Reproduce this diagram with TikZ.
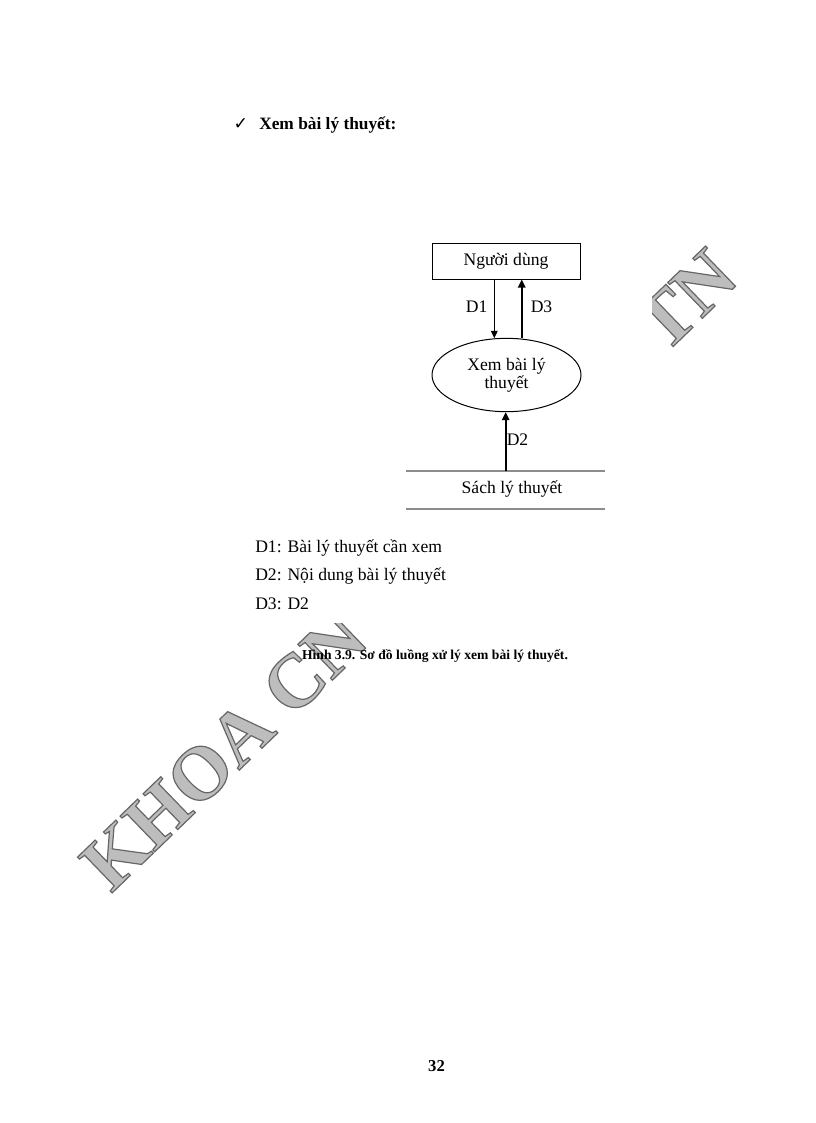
\documentclass[tikz,border=0pt]{standalone}
\usepackage{fontspec}
\setmainfont{Liberation Serif}
\newfontfamily\symfont{DejaVu Sans}
\usetikzlibrary{shapes.geometric,arrows.meta}
\definecolor{wmfill}{gray}{0.74}
\definecolor{storegray}{gray}{0.55}
\newcommand\dgfont{\fontsize{13.2}{13.6}\selectfont}
\newcommand\wmtext[1]{\special{pdf:literal direct 0.74 g 0.40 G 2 Tr 0.9 w}#1\special{pdf:literal direct 0 Tr}}
\begin{document}
\begin{tikzpicture}[x=0.75pt,y=-0.75pt,
  wm/.style={font=\fontsize{57}{57}\selectfont\bfseries, rotate=44, inner sep=0pt, text=wmfill},
  boxst/.style={draw, line width=0.75pt, minimum width=111pt, minimum height=27pt, inner sep=0pt,
    font=\dgfont, text height=9pt, text depth=3pt},
  procst/.style={ellipse, draw, line width=0.75pt, minimum width=111.75pt, minimum height=55pt,
    inner sep=0pt, align=center, font=\dgfont},
  storest/.style={minimum width=148.5pt, minimum height=27.5pt, inner sep=0pt},
  storeline/.style={draw=storegray, line width=1.5pt},
  lbl/.style={font=\dgfont, inner sep=0pt, anchor=base},
  listst/.style={font=\fontsize{13.2}{15}\selectfont, inner sep=0pt, anchor=base west},
  thinflow/.style={line width=0.7pt, -{Triangle[length=5.5pt,width=5pt]}},
  thickflow/.style={line width=1.4pt, -{Triangle[length=6pt,width=5.5pt]}}
]
\useasboundingbox (0,0) rectangle (816,1123);
\fill[white] (0,0) rectangle (816,1123);

% watermark
\node[wm, anchor=base west] (wmleft) at (111,894) {\wmtext{KHOA CN}};
\node[wm, anchor=base east] (wmright) at (741,281) {\wmtext{TN}};
\fill[white] (240,150) rectangle (652,623);

% heading
\node[font=\symfont\fontsize{13}{13}\selectfont\bfseries, inner sep=0pt, anchor=base] (tick) at (241,129.5) {✓};
\node[font=\fontsize{13}{15}\selectfont\bfseries, inner sep=0pt, anchor=base west] (title) at (259,129.5) {Xem bài lý thuyết:};

% diagram
\node[boxst] (user) at (506,261) {Người dùng};
\node[procst] (proc) at (506.5,375) {Xem bài lý\\thuyết};
\node[storest] (store) at (505.5,490) {};
\draw[storeline] (store.north west) -- (store.north east);
\draw[storeline] (store.south west) -- (store.south east);
\node[lbl] (storetext) at (512,493.3) {Sách lý thuyết};

\coordinate (d1x) at (494.3,0);
\coordinate (d3x) at (521.7,0);
\coordinate (d2x) at (505.7,0);
\draw[thinflow] (user.south -| d1x) -- ([yshift=-0.3pt]proc.north -| d1x);
\draw[thickflow] ([yshift=-0.3pt]proc.north -| d3x) -- (user.south -| d3x);
\draw[thickflow] (store.north -| d2x) -- (proc.south -| d2x);
\node[lbl] (d1) at (476.7,312.5) {D1};
\node[lbl] (d3) at (541.5,312.5) {D3};
\node[lbl] (d2) at (517.5,445) {D2};

% legend
\node[listst] (l1) at (255,552) {D1: Bài lý thuyết cần xem};
\node[listst] (l2) at (255,580.5) {D2: Nội dung bài lý thuyết};
\node[listst] (l3) at (255,609) {D3: D2};

% caption
\node[font=\fontsize{10.2}{12}\selectfont\bfseries, inner sep=0pt, anchor=base] (caption) at (435,659) {Hình 3.9. Sơ đồ luồng xử lý xem bài lý thuyết.};

% page number
\node[font=\fontsize{12.5}{14}\selectfont\bfseries, inner sep=0pt, anchor=base] (page) at (436.5,1071) {32};
\end{tikzpicture}
\end{document}
